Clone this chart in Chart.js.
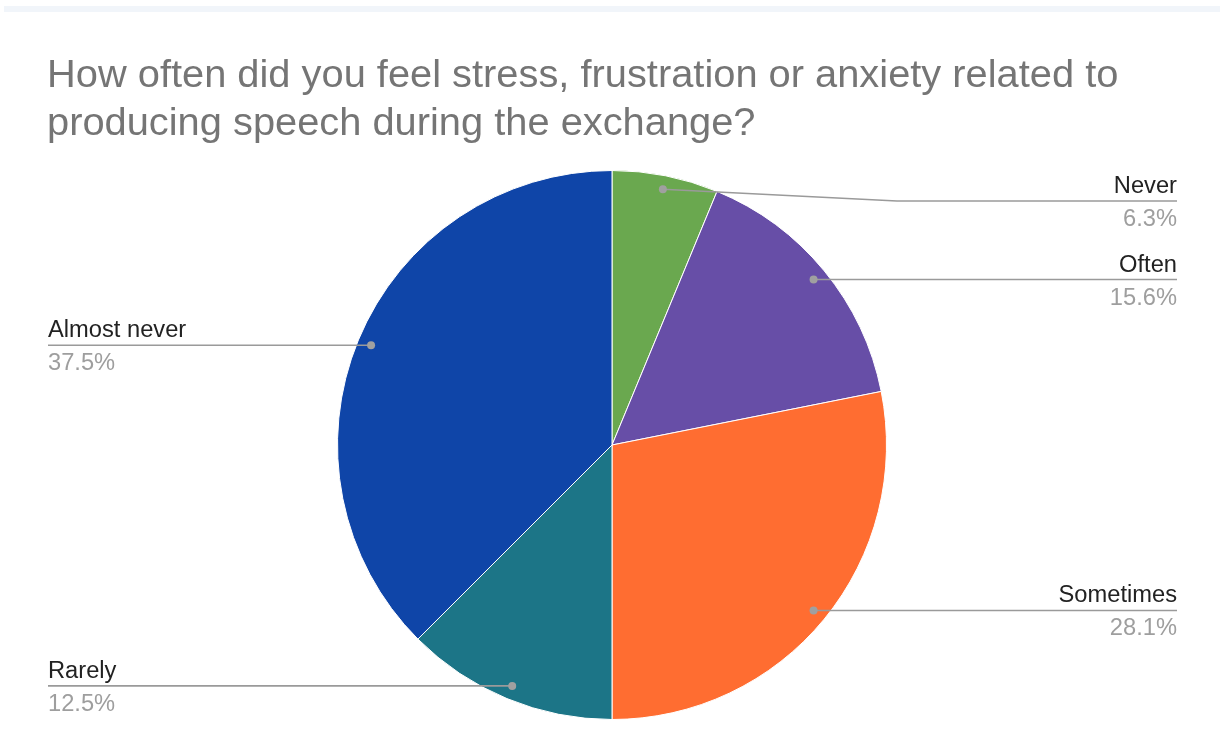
<!DOCTYPE html>
<html lang="en">
<head>
  <meta charset="UTF-8" />
  <title>Speech stress survey</title>
  <script src="https://cdn.jsdelivr.net/npm/chart.js"></script>
  <style>
    body { margin: 0; background: #fff; }
    .band { position: absolute; left: 4px; right: 0; top: 6px; height: 6px; background: #f1f5fa; }
    #wrap { position: absolute; left: 0; top: 0; width: 1220px; height: 756px; }
  </style>
</head>
<body>
  <div class="band"></div>
  <div id="wrap"><canvas id="pie"></canvas></div>

  <script>
    const titleLines = [
      'How often did you feel stress, frustration or anxiety related to',
      'producing speech during the exchange?'
    ];
    const categories = ['Never', 'Often', 'Sometimes', 'Rarely', 'Almost never'];
    const counts = [2, 5, 9, 4, 12];
    const sliceColors = ['#6aa84f', '#674ea7', '#ff6d31', '#1c7587', '#0f45a8'];

    const total = counts.reduce((a, b) => a + b, 0);
    const FONT = '"Liberation Sans", Arial, sans-serif';

    // text drawn slightly wider than the font's own advance
    function wideText(ctx, text, x, y, sx) {
      ctx.save();
      ctx.translate(x, y);
      ctx.scale(sx, 1);
      ctx.fillText(text, 0, 0);
      ctx.restore();
    }

    // title, leader lines and labels drawn on top of the pie
    const labelPlugin = {
      id: 'labels',
      afterDraw(chart) {
        const ctx = chart.ctx;
        ctx.save();
        ctx.fillStyle = '#757575';
        ctx.font = '38px ' + FONT;
        ctx.textBaseline = 'alphabetic';
        ctx.textAlign = 'left';
        wideText(ctx, titleLines[0], 47, 87, 1.048);
        wideText(ctx, titleLines[1], 47, 135, 1.048);

        const arcs = chart.getDatasetMeta(0).data;
        arcs.forEach((arc, i) => {
          const mid = (arc.startAngle + arc.endAngle) / 2;
          const r = arc.outerRadius * 0.95;
          const dx = arc.x + Math.cos(mid) * r;
          const dy = arc.y + Math.sin(mid) * r;
          const right = Math.cos(mid) >= 0;
          const ly = Math.max(dy, 201);
          const endX = right ? 1177 : 48;

          ctx.strokeStyle = '#9a9a9a';
          ctx.lineWidth = 1.6;
          ctx.beginPath();
          ctx.moveTo(dx, dy);
          if (ly !== dy) ctx.lineTo(897, ly);
          ctx.lineTo(endX, ly);
          ctx.stroke();

          ctx.fillStyle = '#a0a0a0';
          ctx.beginPath();
          ctx.arc(dx, dy, 4, 0, Math.PI * 2);
          ctx.fill();

          ctx.textAlign = right ? 'right' : 'left';
          ctx.font = '23px ' + FONT;
          ctx.fillStyle = '#222222';
          wideText(ctx, categories[i], endX, ly - 8, 1.03);
          ctx.fillStyle = '#9e9e9e';
          const pct = (counts[i] / total * 100).toFixed(1) + '%';
          wideText(ctx, pct, endX, ly + 25, 1.03);
        });
        ctx.restore();
      }
    };

    new Chart(document.getElementById('pie'), {
      type: 'pie',
      data: {
        labels: categories,
        datasets: [{
          data: counts,
          backgroundColor: sliceColors,
          borderColor: '#ffffff',
          borderWidth: 1
        }]
      },
      options: {
        responsive: true,
        maintainAspectRatio: false,
        animation: false,
        layout: { padding: { top: 170, bottom: 36, left: 337, right: 333 } },
        plugins: { legend: { display: false }, tooltip: { enabled: false }, title: { display: false } }
      },
      plugins: [labelPlugin]
    });
  </script>
</body>
</html>
